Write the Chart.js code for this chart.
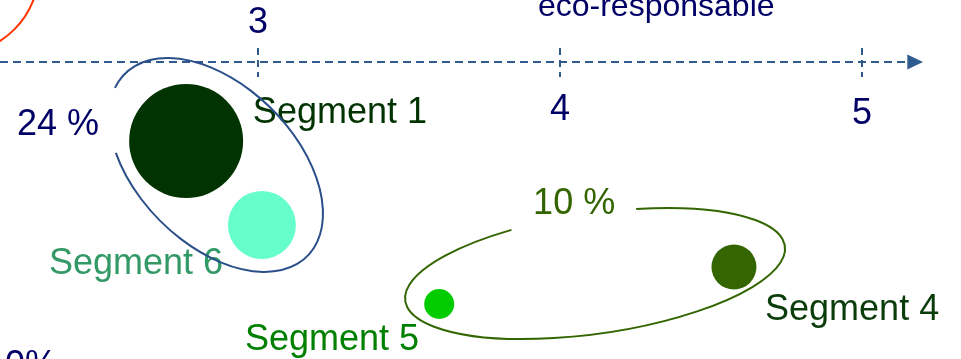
<!DOCTYPE html>
<html>
<head>
<meta charset="utf-8">
<style>
  html, body { margin: 0; padding: 0; background: #ffffff; overflow: hidden; }
  #wrap { width: 961px; height: 359px; }
</style>
</head>
<body>
<div id="wrap"><canvas id="myChart" width="961" height="359"></canvas></div>
<script src="https://cdn.jsdelivr.net/npm/chart.js@4/dist/chart.umd.min.js"></script>
<script>
// segments placed on the eco-responsable scale
var segments = ['Segment 1', 'Segment 6', 'Segment 5', 'Segment 4'];
var ecoScore = [2.762, 3.013, 3.600, 4.576];
var depth = [-0.79, -1.63, -2.42, -2.05];
var bubbleRadius = [57, 34, 15, 22.5];
var bubbleColors = ['#003300', '#66ffcc', '#00cc00', '#336600'];
var axisTicks = [3, 4, 5];
var groupShares = ['24 %', '10 %'];
var axisTitle = 'eco-responsable';

var FONT = '"Liberation Sans", Arial, sans-serif';

var overlay = {
  id: 'overlay',
  afterDatasetsDraw: function (chart) {
    var ctx = chart.ctx;
    var xs = chart.scales.x, ys = chart.scales.y;
    var px = function (v) { return xs.getPixelForValue(v); };
    var py = function (v) { return ys.getPixelForValue(v); };
    var axisY = py(0);
    ctx.save();

    // red arc (cut at top left)
    ctx.strokeStyle = '#ff3300';
    ctx.lineWidth = 2;
    ctx.beginPath();
    ctx.arc(-45, -30, 84, 0, Math.PI / 2);
    ctx.stroke();

    // dashed axis with arrow
    ctx.strokeStyle = '#2f5b8f';
    ctx.lineWidth = 2;
    ctx.setLineDash([8, 5]);
    ctx.beginPath();
    ctx.moveTo(0, axisY);
    ctx.lineTo(px(5.15), axisY);
    ctx.stroke();
    ctx.setLineDash([]);
    ctx.fillStyle = '#2f5b8f';
    ctx.beginPath();
    ctx.moveTo(px(5.15), axisY - 7.5);
    ctx.lineTo(px(5.202), axisY);
    ctx.lineTo(px(5.15), axisY + 7.5);
    ctx.closePath();
    ctx.fill();

    // tick marks
    ctx.lineWidth = 2;
    ctx.setLineDash([7, 5]);
    axisTicks.forEach(function (t) {
      ctx.beginPath();
      ctx.moveTo(px(t), py(0.14));
      ctx.lineTo(px(t), py(-0.15));
      ctx.stroke();
    });
    ctx.setLineDash([]);

    // tick labels
    ctx.font = '36px ' + FONT;
    ctx.fillStyle = '#000066';
    ctx.textAlign = 'center';
    ctx.textBaseline = 'alphabetic';
    ctx.fillText(String(axisTicks[0]), px(axisTicks[0]), py(0.29));
    ctx.fillText(String(axisTicks[1]), px(axisTicks[1]), py(-0.58));
    ctx.fillText(String(axisTicks[2]), px(axisTicks[2]), py(-0.62));

    ctx.textAlign = 'left';
    ctx.font = '32px ' + FONT;
    ctx.fillText(axisTitle, px(3.927), py(0.46));

    ctx.font = '36px ' + FONT;
    ctx.fillText(groupShares[0], 17, py(-0.73));
    ctx.fillText('0%', 5, py(-3.14));

    // segment labels
    ctx.fillStyle = '#003300';
    ctx.fillText(segments[0], px(2.983), py(-0.61));
    ctx.fillStyle = '#339966';
    ctx.fillText(segments[1], px(2.308), py(-2.12));
    ctx.fillStyle = '#008000';
    ctx.fillText(segments[2], px(2.957), py(-2.88));
    ctx.fillStyle = '#0b3d0b';
    ctx.fillText(segments[3], px(4.679), py(-2.58));
    ctx.fillStyle = '#336600';
    ctx.fillText(groupShares[1], px(3.911), py(-1.52));

    // group ellipses (with a gap for the share label)
    var deg = Math.PI / 180;
    ctx.lineWidth = 2;
    ctx.strokeStyle = '#2a4f8a';
    ctx.beginPath();
    ctx.ellipse(px(2.861), py(-1.03), 129, 79, 45 * deg, 167.6 * deg, 128 * deg);
    ctx.stroke();

    ctx.strokeStyle = '#336600';
    ctx.beginPath();
    ctx.ellipse(px(4.116), py(-2.115), 191.8, 60.1, -8.23 * deg, 285.1 * deg, 246.5 * deg);
    ctx.stroke();

    ctx.restore();
  }
};

var ctx = document.getElementById('myChart').getContext('2d');
var myChart = new Chart(ctx, {
  type: 'bubble',
  data: {
    labels: segments,
    datasets: [{
      data: segments.map(function (s, i) {
        return { x: ecoScore[i], y: depth[i], r: bubbleRadius[i] };
      }),
      backgroundColor: bubbleColors,
      borderColor: bubbleColors,
      borderWidth: 0,
      clip: false
    }]
  },
  options: {
    responsive: false,
    animation: false,
    devicePixelRatio: 1,
    layout: { padding: 0, autoPadding: false },
    plugins: { legend: { display: false }, tooltip: { enabled: false } },
    scales: {
      x: { type: 'linear', display: false, min: 2.1457, max: 5.32781 },
      y: { type: 'linear', display: false, min: -2.97, max: 0.62 }
    }
  },
  plugins: [overlay]
});
</script>
</body>
</html>
